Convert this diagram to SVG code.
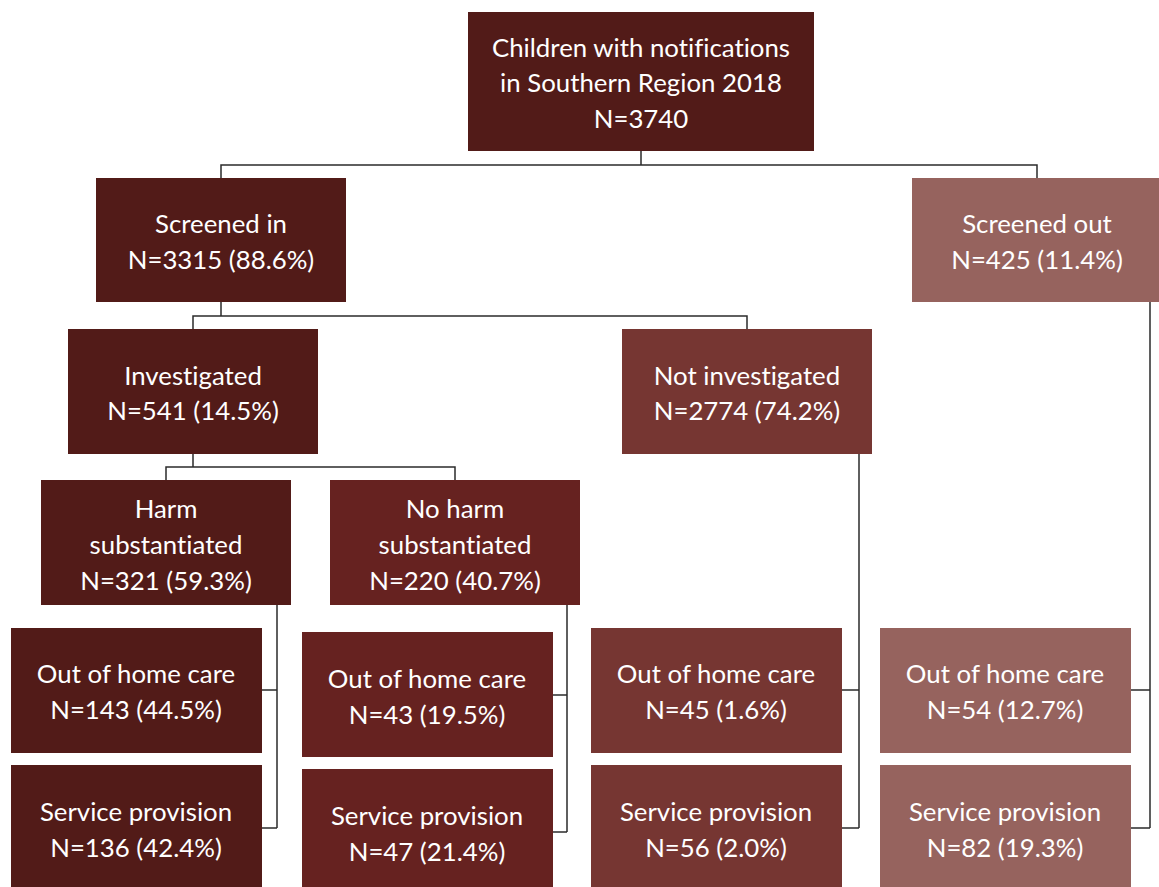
<svg xmlns="http://www.w3.org/2000/svg" width="1159" height="887" viewBox="0 0 1159 887">
  <style>
    .box { stroke: none; }
    .c1 { fill: #521b18; }
    .c2 { fill: #662220; }
    .c3 { fill: #763632; }
    .c4 { fill: #96635e; }
    .lbl { font-family: Lato, "Open Sans", "Liberation Sans", sans-serif; font-size: 25.8px; fill: #ffffff; text-anchor: middle; dominant-baseline: central; font-variant-ligatures: none; }
    .wire { fill: none; stroke: #2b2b2b; stroke-width: 1.5; }
  </style>
  <rect width="1159" height="887" fill="#ffffff"/>

  <g id="connectors">
    <path class="wire" d="M641,151 V165 M221,178 V165 H1037 V178"/>
    <path class="wire" d="M221,302 V316 M193,329 V316 H747 V329"/>
    <path class="wire" d="M193,454 V467 M166,480 V467 H455 V480"/>
    <path class="wire" d="M277,605 V828 M262,690 H277 M262,828 H277"/>
    <path class="wire" d="M567,605 V832 M553,695 H567 M553,832 H567"/>
    <path class="wire" d="M859,454 V828 M842,690 H859 M842,828 H859"/>
    <path class="wire" d="M1150,302 V828 M1131,690 H1150 M1131,828 H1150"/>
  </g>

  <g id="root">
    <rect class="box c1" x="468" y="12" width="346" height="139"/>
    <text class="lbl" x="641" y="47">Children with notifications</text>
    <text class="lbl" x="641" y="82">in Southern Region 2018</text>
    <text class="lbl" x="641" y="118">N=3740</text>
  </g>

  <g id="screened-in">
    <rect class="box c1" x="96" y="178" width="250" height="124"/>
    <text class="lbl" x="221" y="223">Screened in</text>
    <text class="lbl" x="221" y="259">N=3315 (88.6%)</text>
  </g>

  <g id="screened-out">
    <rect class="box c4" x="912" y="178" width="250" height="124"/>
    <text class="lbl" x="1037" y="223">Screened out</text>
    <text class="lbl" x="1037" y="259">N=425 (11.4%)</text>
  </g>

  <g id="investigated">
    <rect class="box c1" x="68" y="329" width="250" height="125"/>
    <text class="lbl" x="193" y="375">Investigated</text>
    <text class="lbl" x="193" y="410">N=541 (14.5%)</text>
  </g>

  <g id="not-investigated">
    <rect class="box c3" x="622" y="329" width="250" height="125"/>
    <text class="lbl" x="747" y="375">Not investigated</text>
    <text class="lbl" x="747" y="410">N=2774 (74.2%)</text>
  </g>

  <g id="harm">
    <rect class="box c1" x="41" y="480" width="250" height="125"/>
    <text class="lbl" x="166" y="508">Harm</text>
    <text class="lbl" x="166" y="544">substantiated</text>
    <text class="lbl" x="166" y="580">N=321 (59.3%)</text>
  </g>

  <g id="no-harm">
    <rect class="box c2" x="330" y="480" width="250" height="125"/>
    <text class="lbl" x="455" y="508">No harm</text>
    <text class="lbl" x="455" y="544">substantiated</text>
    <text class="lbl" x="455" y="580">N=220 (40.7%)</text>
  </g>

  <g id="harm-ohc">
    <rect class="box c1" x="11" y="628" width="251" height="125"/>
    <text class="lbl" x="136" y="673">Out of home care</text>
    <text class="lbl" x="136" y="709">N=143 (44.5%)</text>
  </g>
  <g id="harm-service">
    <rect class="box c1" x="11" y="765" width="251" height="125"/>
    <text class="lbl" x="136" y="811">Service provision</text>
    <text class="lbl" x="136" y="847">N=136 (42.4%)</text>
  </g>

  <g id="noharm-ohc">
    <rect class="box c2" x="302" y="632" width="251" height="125"/>
    <text class="lbl" x="427" y="678">Out of home care</text>
    <text class="lbl" x="427" y="714">N=43 (19.5%)</text>
  </g>
  <g id="noharm-service">
    <rect class="box c2" x="302" y="769" width="251" height="125"/>
    <text class="lbl" x="427" y="815">Service provision</text>
    <text class="lbl" x="427" y="851">N=47 (21.4%)</text>
  </g>

  <g id="notinv-ohc">
    <rect class="box c3" x="591" y="628" width="251" height="125"/>
    <text class="lbl" x="716" y="673">Out of home care</text>
    <text class="lbl" x="716" y="709">N=45 (1.6%)</text>
  </g>
  <g id="notinv-service">
    <rect class="box c3" x="591" y="765" width="251" height="125"/>
    <text class="lbl" x="716" y="811">Service provision</text>
    <text class="lbl" x="716" y="847">N=56 (2.0%)</text>
  </g>

  <g id="out-ohc">
    <rect class="box c4" x="880" y="628" width="251" height="125"/>
    <text class="lbl" x="1005" y="673">Out of home care</text>
    <text class="lbl" x="1005" y="709">N=54 (12.7%)</text>
  </g>
  <g id="out-service">
    <rect class="box c4" x="880" y="765" width="251" height="125"/>
    <text class="lbl" x="1005" y="811">Service provision</text>
    <text class="lbl" x="1005" y="847">N=82 (19.3%)</text>
  </g>
</svg>
